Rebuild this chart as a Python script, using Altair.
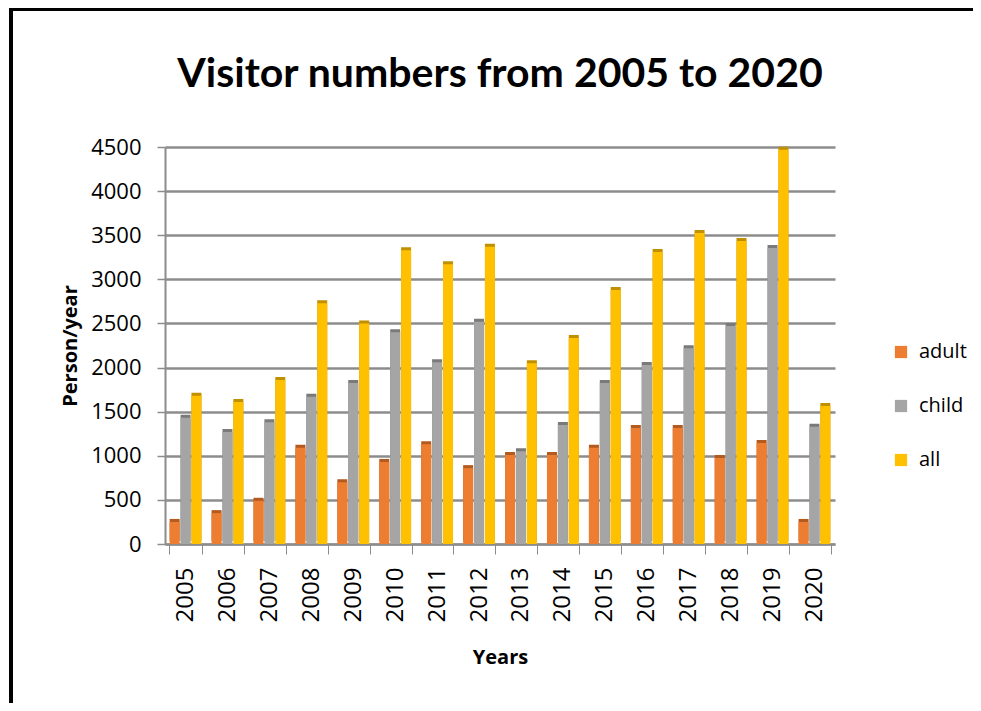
import altair as alt
import pandas as pd

years = [str(y) for y in range(2005, 2021)]
adult = [250, 350, 490, 1090, 700, 930, 1130, 860, 1010, 1010, 1090, 1315, 1315, 975, 1145, 250]
child = [1430, 1270, 1380, 1670, 1825, 2400, 2060, 2520, 1050, 1350, 1825, 2030, 2220, 2470, 3355, 1330]
total = [1680, 1610, 1860, 2730, 2500, 3330, 3170, 3370, 2050, 2335, 2880, 3310, 3525, 3435, 4470, 1565]
series = ["adult", "child", "all"]
colors = ["#ED7D31", "#A5A5A5", "#FFC000"]
side_colors = ["#B35A1F", "#7A7A7A", "#C09000"]
title_text = "Visitor numbers from 2005 to 2020"

rows = []
for i, y in enumerate(years):
    for s, vals in zip(series, [adult, child, total]):
        rows.append({"Year": y, "Series": s, "Value": vals[i]})
df = pd.DataFrame(rows)

FONT = "Open Sans"
TFONT = "Lato"

xscale = alt.Scale(paddingInner=0.22, paddingOuter=0.1)
yscale = alt.Scale(domain=[0, 4500])

xaxis = alt.Axis(title="Years", labelAngle=270, labelFontSize=24, labelFont=FONT,
                 labelColor="#000000", labelPadding=13,
                 titleFont=FONT, titleFontSize=20, titleFontWeight="bold",
                 titleColor="#000000", titlePadding=26,
                 domainColor="#8C8C8C", domainWidth=2, tickColor="#8C8C8C",
                 tickSize=10, tickBand="extent", grid=False,
                 labelBaseline="middle", labelAlign="right")
yaxis = alt.Axis(title="Person/year", values=list(range(0, 4501, 500)), format="d",
                 labelFontSize=22, labelFont=FONT, labelColor="#000000",
                 labelPadding=16,
                 titleFont=FONT, titleFontSize=20, titleFontWeight="bold",
                 titleColor="#000000", titlePadding=10,
                 domainColor="#8C8C8C", domainWidth=2,
                 tickColor="#8C8C8C", tickSize=8, tickWidth=1.5,
                 gridColor="#8C8C8C", gridWidth=2.5)

base = alt.Chart(df)

shadow = base.mark_bar(size=10, xOffset=3, yOffset=-3).encode(
    x=alt.X("Year:N", sort=years, scale=xscale, axis=xaxis),
    xOffset=alt.XOffset("Series:N", sort=series),
    y=alt.Y("Value:Q", scale=yscale, axis=yaxis),
    color=alt.Color("Series:N", sort=series,
                    scale=alt.Scale(domain=series, range=side_colors), legend=None),
)

bars = base.mark_bar(size=10).encode(
    x=alt.X("Year:N", sort=years, scale=xscale, axis=xaxis),
    xOffset=alt.XOffset("Series:N", sort=series),
    y=alt.Y("Value:Q", scale=yscale, axis=yaxis),
    color=alt.Color("Series:N", sort=series,
                    scale=alt.Scale(domain=series, range=colors),
                    legend=alt.Legend(title=None, orient="none", legendX=726, legendY=195,
                                      symbolType="square", symbolSize=150,
                                      symbolStrokeWidth=0, labelFont=FONT,
                                      labelFontSize=20, labelColor="#000000",
                                      rowPadding=34, labelOffset=8)),
)

border_top = base.mark_rule(color="#000000", strokeWidth=3).encode(
    x=alt.value(-154), x2=alt.value(1000), y=alt.value(-138)
)
border_left = base.mark_rule(color="#000000", strokeWidth=3).encode(
    x=alt.value(-154), y=alt.value(-139), y2=alt.value(700)
)

title = alt.Chart(pd.DataFrame({"t": [title_text]})).mark_text(
    font=TFONT, fontSize=41, fontWeight="bold", color="#000000",
    align="center", baseline="alphabetic"
).encode(text="t:N", x=alt.value(335), y=alt.value(-60))

chart = alt.layer(border_top, border_left, shadow, bars, title).resolve_scale(
    color="independent"
).properties(
    width=670, height=397,
    padding={"left": 157, "top": 139, "right": 138, "bottom": 159},
    autosize=alt.AutoSizeParams(type="none"),
).configure_view(stroke=None)

chart.save("out.html", embed_options={"renderer": "svg", "actions": False})
